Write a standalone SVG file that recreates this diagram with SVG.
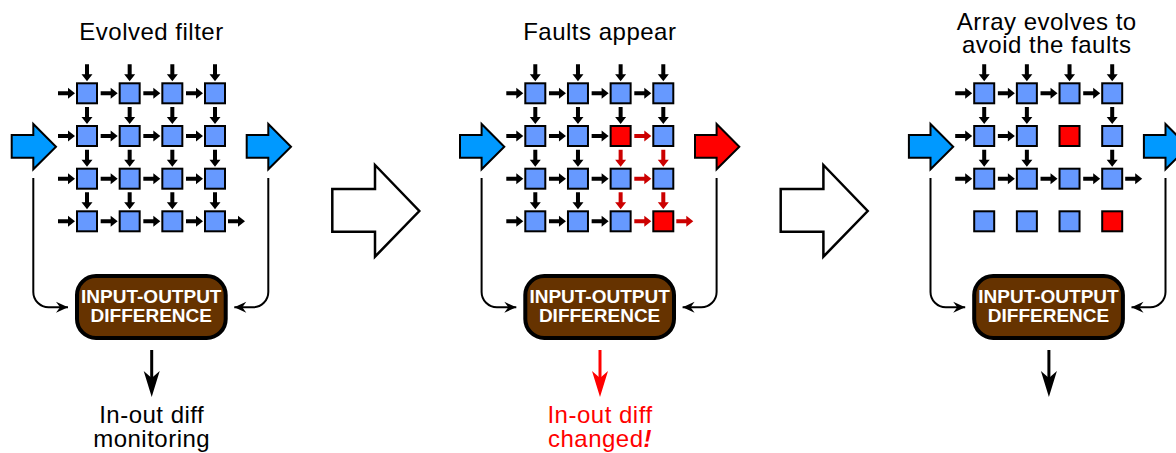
<svg xmlns="http://www.w3.org/2000/svg" xmlns:xlink="http://www.w3.org/1999/xlink" width="1176" height="453" viewBox="0 0 1176 453">
<style>
text{font-family:"Liberation Sans",Arial,sans-serif}
.t{font-size:24px;fill:#000;text-anchor:middle;letter-spacing:0.5px}
.tr{font-size:24px;fill:#ff0000;text-anchor:middle;letter-spacing:0.5px}
.bx{font-size:19px;font-weight:bold;fill:#fff;text-anchor:middle}
.box{fill:#663300;stroke:#000;stroke-width:4}
.sq{fill:#6699ff;stroke:#000;stroke-width:2}
.sqr{fill:#ff0000;stroke:#000;stroke-width:2}
.big{fill:#0099ff;stroke:#000;stroke-width:2}
.bigr{fill:#ff0000;stroke:#000;stroke-width:2}
.hol{fill:#fff;stroke:#000;stroke-width:2.5}
.ln{fill:none;stroke:#000;stroke-width:2}
.k{fill:#000}
.r{fill:#cc0000}
</style>
<defs>
<path id="ar" d="M0,-2 H10 V-5.5 L17,0 L10,5.5 V2 H0 Z"/>
<path id="ad" d="M-2,0 V10 H-5.5 L0,17 L5.5,10 H2 V0 Z"/>
<marker id="mk" viewBox="-13 -6 14 12" markerWidth="14" markerHeight="12" refX="0" refY="0" orient="auto" markerUnits="userSpaceOnUse"><path d="M0,0 L-12,-5.5 L-8,0 L-12,5.5 Z" fill="#000"/></marker>
<path id="bigarrow" d="M0,11 H21.6 V0 L44.3,22.7 L21.6,45.3 V33.7 H0 Z"/>
<path id="downhead" d="M0,0 L-8,-26 L0,-19 L8,-26 Z"/>
</defs>

<!-- Transition arrows -->
<g id="transition1"><path class="hol" d="M332.3,189 H375 V165 L419.3,211 L375,256.7 V231.7 H332.3 Z"/></g>
<g id="transition2"><path class="hol" d="M780.7,189 H823.4 V165 L867.7,211 L823.4,256.7 V231.7 H780.7 Z"/></g>

<!-- PANEL 1 -->
<g id="panel1">
<text class="t" x="151.5" y="39.5">Evolved filter</text>
<g id="p1-grid">
<rect class="sq" x="77" y="83.3" width="20" height="20"/><rect class="sq" x="119.67" y="83.3" width="20" height="20"/><rect class="sq" x="162.33" y="83.3" width="20" height="20"/><rect class="sq" x="205" y="83.3" width="20" height="20"/>
<rect class="sq" x="77" y="126" width="20" height="20"/><rect class="sq" x="119.67" y="126" width="20" height="20"/><rect class="sq" x="162.33" y="126" width="20" height="20"/><rect class="sq" x="205" y="126" width="20" height="20"/>
<rect class="sq" x="77" y="168.7" width="20" height="20"/><rect class="sq" x="119.67" y="168.7" width="20" height="20"/><rect class="sq" x="162.33" y="168.7" width="20" height="20"/><rect class="sq" x="205" y="168.7" width="20" height="20"/>
<rect class="sq" x="77" y="211.3" width="20" height="20"/><rect class="sq" x="119.67" y="211.3" width="20" height="20"/><rect class="sq" x="162.33" y="211.3" width="20" height="20"/><rect class="sq" x="205" y="211.3" width="20" height="20"/>
</g>
<g id="p1-arrows" class="k">
<use href="#ar" x="58" y="93.3"/><use href="#ar" x="100.67" y="93.3"/><use href="#ar" x="143.33" y="93.3"/><use href="#ar" x="186" y="93.3"/>
<use href="#ar" x="58" y="136"/><use href="#ar" x="100.67" y="136"/><use href="#ar" x="143.33" y="136"/><use href="#ar" x="186" y="136"/>
<use href="#ar" x="58" y="178.7"/><use href="#ar" x="100.67" y="178.7"/><use href="#ar" x="143.33" y="178.7"/><use href="#ar" x="186" y="178.7"/>
<use href="#ar" x="58" y="221.3"/><use href="#ar" x="100.67" y="221.3"/><use href="#ar" x="143.33" y="221.3"/><use href="#ar" x="186" y="221.3"/><use href="#ar" x="228" y="221.3"/>
<use href="#ad" x="87" y="64.3"/><use href="#ad" x="129.67" y="64.3"/><use href="#ad" x="172.33" y="64.3"/><use href="#ad" x="215" y="64.3"/>
<use href="#ad" x="87" y="107"/><use href="#ad" x="129.67" y="107"/><use href="#ad" x="172.33" y="107"/><use href="#ad" x="215" y="107"/>
<use href="#ad" x="87" y="149.7"/><use href="#ad" x="129.67" y="149.7"/><use href="#ad" x="172.33" y="149.7"/><use href="#ad" x="215" y="149.7"/>
<use href="#ad" x="87" y="192.3"/><use href="#ad" x="129.67" y="192.3"/><use href="#ad" x="172.33" y="192.3"/><use href="#ad" x="215" y="192.3"/>
</g>
<g id="p1-in"><use href="#bigarrow" class="big" x="11.7" y="124"/></g>
<g id="p1-out"><use href="#bigarrow" class="big" x="246.7" y="124"/></g>
<g id="p1-box"><rect class="box" x="77" y="276" width="148.7" height="62" rx="19"/>
<text class="bx" x="151.3" y="303.3">INPUT-OUTPUT</text><text class="bx" x="151.3" y="321.7">DIFFERENCE</text></g>
<g id="p1-connectors">
<path class="ln" d="M33.3,178 V292 A15.3,15.3 0 0 0 48.6,307.3 H68" marker-end="url(#mk)"/>
<path class="ln" d="M268.3,178 V292 A15.3,15.3 0 0 1 253,307.3 H234.3" marker-end="url(#mk)"/>
<line x1="151.7" y1="350" x2="151.7" y2="382" stroke="#000" stroke-width="3"/>
<use href="#downhead" class="k" x="151.7" y="397"/>
</g>
<text class="t" x="151.7" y="423.3">In-out diff</text>
<text class="t" x="151.7" y="447">monitoring</text>
</g>

<!-- PANEL 2 -->
<g id="panel2" transform="translate(448.3,0)">
<text class="t" x="151.5" y="39.5">Faults appear</text>
<g id="p2-grid">
<rect class="sq" x="77" y="83.3" width="20" height="20"/><rect class="sq" x="119.67" y="83.3" width="20" height="20"/><rect class="sq" x="162.33" y="83.3" width="20" height="20"/><rect class="sq" x="205" y="83.3" width="20" height="20"/>
<rect class="sq" x="77" y="126" width="20" height="20"/><rect class="sq" x="119.67" y="126" width="20" height="20"/><rect class="sqr" x="162.33" y="126" width="20" height="20"/><rect class="sq" x="205" y="126" width="20" height="20"/>
<rect class="sq" x="77" y="168.7" width="20" height="20"/><rect class="sq" x="119.67" y="168.7" width="20" height="20"/><rect class="sq" x="162.33" y="168.7" width="20" height="20"/><rect class="sq" x="205" y="168.7" width="20" height="20"/>
<rect class="sq" x="77" y="211.3" width="20" height="20"/><rect class="sq" x="119.67" y="211.3" width="20" height="20"/><rect class="sq" x="162.33" y="211.3" width="20" height="20"/><rect class="sqr" x="205" y="211.3" width="20" height="20"/>
</g>
<g id="p2-arrows-black" class="k">
<use href="#ar" x="58" y="93.3"/><use href="#ar" x="100.67" y="93.3"/><use href="#ar" x="143.33" y="93.3"/><use href="#ar" x="186" y="93.3"/>
<use href="#ar" x="58" y="136"/><use href="#ar" x="100.67" y="136"/><use href="#ar" x="143.33" y="136"/>
<use href="#ar" x="58" y="178.7"/><use href="#ar" x="100.67" y="178.7"/><use href="#ar" x="143.33" y="178.7"/>
<use href="#ar" x="58" y="221.3"/><use href="#ar" x="100.67" y="221.3"/><use href="#ar" x="143.33" y="221.3"/>
<use href="#ad" x="87" y="64.3"/><use href="#ad" x="129.67" y="64.3"/><use href="#ad" x="172.33" y="64.3"/><use href="#ad" x="215" y="64.3"/>
<use href="#ad" x="87" y="107"/><use href="#ad" x="129.67" y="107"/><use href="#ad" x="172.33" y="107"/><use href="#ad" x="215" y="107"/>
<use href="#ad" x="87" y="149.7"/><use href="#ad" x="129.67" y="149.7"/>
<use href="#ad" x="87" y="192.3"/><use href="#ad" x="129.67" y="192.3"/>
</g>
<g id="p2-arrows-red" class="r">
<use href="#ar" x="186" y="136"/><use href="#ar" x="186" y="178.7"/><use href="#ar" x="186" y="221.3"/><use href="#ar" x="228" y="221.3"/>
<use href="#ad" x="172.33" y="149.7"/><use href="#ad" x="215" y="149.7"/>
<use href="#ad" x="172.33" y="192.3"/><use href="#ad" x="215" y="192.3"/>
</g>
<g id="p2-in"><use href="#bigarrow" class="big" x="11.7" y="124"/></g>
<g id="p2-out"><use href="#bigarrow" class="bigr" x="246.7" y="124"/></g>
<g id="p2-box"><rect class="box" x="77" y="276" width="148.7" height="62" rx="19"/>
<text class="bx" x="151.3" y="303.3">INPUT-OUTPUT</text><text class="bx" x="151.3" y="321.7">DIFFERENCE</text></g>
<g id="p2-connectors">
<path class="ln" d="M33.3,178 V292 A15.3,15.3 0 0 0 48.6,307.3 H68" marker-end="url(#mk)"/>
<path class="ln" d="M268.3,178 V292 A15.3,15.3 0 0 1 253,307.3 H234.3" marker-end="url(#mk)"/>
<line x1="151.7" y1="350" x2="151.7" y2="382" stroke="#ff0000" stroke-width="3"/>
<use href="#downhead" fill="#ff0000" x="151.7" y="397"/>
</g>
<text class="tr" x="151.7" y="423.3">In-out diff</text>
<text class="tr" x="151.7" y="446.5">changed<tspan font-weight="bold" font-style="italic">!</tspan></text>
</g>

<!-- PANEL 3 -->
<g id="panel3" transform="translate(897.2,0)">
<text class="t" x="149.5" y="30">Array evolves to</text>
<text class="t" x="149.5" y="53.3">avoid the faults</text>
<g id="p3-grid">
<rect class="sq" x="77" y="83.3" width="20" height="20"/><rect class="sq" x="119.67" y="83.3" width="20" height="20"/><rect class="sq" x="162.33" y="83.3" width="20" height="20"/><rect class="sq" x="205" y="83.3" width="20" height="20"/>
<rect class="sq" x="77" y="126" width="20" height="20"/><rect class="sq" x="119.67" y="126" width="20" height="20"/><rect class="sqr" x="162.33" y="126" width="20" height="20"/><rect class="sq" x="205" y="126" width="20" height="20"/>
<rect class="sq" x="77" y="168.7" width="20" height="20"/><rect class="sq" x="119.67" y="168.7" width="20" height="20"/><rect class="sq" x="162.33" y="168.7" width="20" height="20"/><rect class="sq" x="205" y="168.7" width="20" height="20"/>
<rect class="sq" x="77" y="211.3" width="20" height="20"/><rect class="sq" x="119.67" y="211.3" width="20" height="20"/><rect class="sq" x="162.33" y="211.3" width="20" height="20"/><rect class="sqr" x="205" y="211.3" width="20" height="20"/>
</g>
<g id="p3-arrows" class="k">
<use href="#ar" x="58" y="93.3"/><use href="#ar" x="100.67" y="93.3"/><use href="#ar" x="143.33" y="93.3"/><use href="#ar" x="186" y="93.3"/>
<use href="#ar" x="58" y="136"/><use href="#ar" x="100.67" y="136"/>
<use href="#ar" x="58" y="178.7"/><use href="#ar" x="100.67" y="178.7"/><use href="#ar" x="143.33" y="178.7"/><use href="#ar" x="186" y="178.7"/><use href="#ar" x="228" y="178.7"/>
<use href="#ad" x="87" y="64.3"/><use href="#ad" x="129.67" y="64.3"/><use href="#ad" x="172.33" y="64.3"/><use href="#ad" x="215" y="64.3"/>
<use href="#ad" x="87" y="107"/><use href="#ad" x="129.67" y="107"/><use href="#ad" x="215" y="107"/>
<use href="#ad" x="87" y="149.7"/><use href="#ad" x="129.67" y="149.7"/><use href="#ad" x="215" y="149.7"/>
</g>
<g id="p3-in"><use href="#bigarrow" class="big" x="11.7" y="124"/></g>
<g id="p3-out"><use href="#bigarrow" class="big" x="246.7" y="124"/></g>
<g id="p3-box"><rect class="box" x="77" y="276" width="148.7" height="62" rx="19"/>
<text class="bx" x="151.3" y="303.3">INPUT-OUTPUT</text><text class="bx" x="151.3" y="321.7">DIFFERENCE</text></g>
<g id="p3-connectors">
<path class="ln" d="M33.3,178 V292 A15.3,15.3 0 0 0 48.6,307.3 H68" marker-end="url(#mk)"/>
<path class="ln" d="M268.3,178 V292 A15.3,15.3 0 0 1 253,307.3 H234.3" marker-end="url(#mk)"/>
<line x1="151.7" y1="350" x2="151.7" y2="382" stroke="#000" stroke-width="3"/>
<use href="#downhead" class="k" x="151.7" y="397"/>
</g>
</g>
</svg>
